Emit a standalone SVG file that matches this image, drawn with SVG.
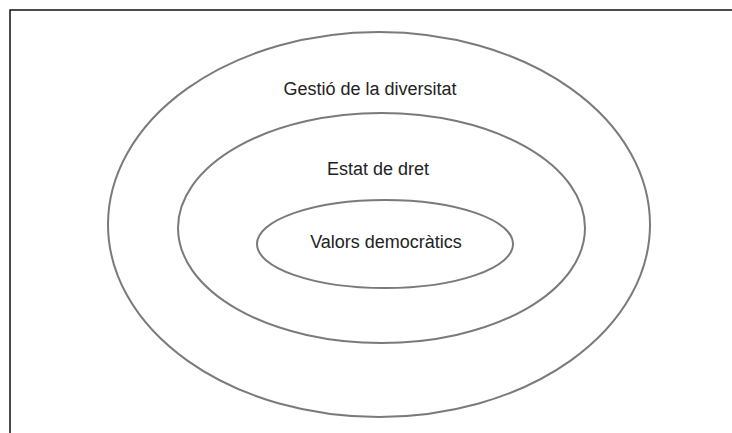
<svg xmlns="http://www.w3.org/2000/svg" width="732" height="433" viewBox="0 0 732 433">
<style>
.ring{fill:none;stroke:#7a7a7a;stroke-width:2}
.lbl{font-family:"Liberation Sans",Arial,sans-serif;font-size:18px;fill:#222;text-anchor:middle}
.frame{stroke:#111;stroke-width:1.5;fill:none}
</style>
<rect width="732" height="433" fill="#fff"/>
<path class="frame" d="M10,433 V10 H732"/>
<g id="outer">
<ellipse class="ring" cx="379" cy="224.5" rx="271" ry="192.5"/>
<text class="lbl" x="370" y="95">Gestió de la diversitat</text>
</g>
<g id="middle">
<ellipse class="ring" cx="381.5" cy="228" rx="203.5" ry="115"/>
<text class="lbl" x="378" y="175">Estat de dret</text>
</g>
<g id="inner">
<ellipse class="ring" cx="385" cy="244" rx="128" ry="44"/>
<text class="lbl" x="386" y="248">Valors democràtics</text>
</g>
<g id="connectors"/>
</svg>
